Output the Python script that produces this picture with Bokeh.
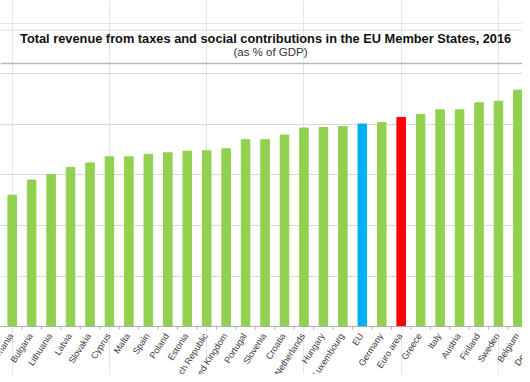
from bokeh.plotting import figure
from bokeh.models import ColumnDataSource, Span, Label, Grid, FixedTicker
from bokeh.core.properties import value
from bokeh.embed import file_html
from bokeh.resources import INLINE

countries = ["Romania", "Bulgaria", "Lithuania", "Latvia", "Slovakia", "Cyprus", "Malta",
             "Spain", "Poland", "Estonia", "Czech Republic", "United Kingdom", "Portugal",
             "Slovenia", "Croatia", "Netherlands", "Hungary", "Luxembourg", "EU", "Germany",
             "Euro area", "Greece", "Italy", "Austria", "Finland", "Sweden", "Belgium", "Denmark"]
revenue = [26.0, 29.0, 30.1, 31.5, 32.4, 33.6, 33.6, 34.1, 34.4, 34.7, 34.8, 35.2, 37.0,
           37.0, 37.9, 39.3, 39.4, 39.6, 40.1, 40.4, 41.4, 42.0, 42.9, 42.9, 44.3, 44.6,
           46.8, 47.2]
grid_values = [0, 10, 20, 30, 40, 50]

GREEN, BLUE, RED = "#92D050", "#00B0F0", "#FF0000"
colors = [BLUE if c == "EU" else RED if c == "Euro area" else GREEN for c in countries]
xs = list(range(len(countries)))

src = ColumnDataSource(dict(x=xs, top=revenue, color=colors, name=countries,
                            ly=[-1.5] * len(xs), lx=[i - 0.05 for i in xs]))

p = figure(width=522, height=374, output_backend="svg", toolbar_location=None,
           x_range=(-0.6015, 26.236), y_range=(-9.50, 64.55),
           x_axis_location=None, y_axis_location=None,
           min_border=0, min_border_left=0, min_border_right=0,
           min_border_top=0, min_border_bottom=0)
p.outline_line_color = None
p.background_fill_color = "white"
p.border_fill_color = "white"

grid = Grid(dimension=1, ticker=FixedTicker(ticks=grid_values),
            grid_line_color="#d9d9d9", grid_line_width=1)
p.add_layout(grid)

p.vbar(x="x", top="top", bottom=0, width=0.44, color="color", source=src)

p.add_layout(Span(location=0, dimension="width", line_color="#b0b0b0", line_width=1))
p.segment(x0=[i + 0.5 for i in xs], y0=[0] * len(xs), x1=[i + 0.5 for i in xs],
          y1=[-0.6] * len(xs), line_color="#b0b0b0", line_width=1)

p.text(x="lx", y="ly", text="name", source=src, angle=1.0, text_align="right",
       text_baseline="middle", text_font=value("Liberation Sans"), text_font_size="9px",
       text_color="#404040")

p.add_layout(Span(location=58.67, dimension="width", line_color="#dcdcdc", line_width=1))
p.add_layout(Span(location=52.08, dimension="width", line_color="#b8b8b8", line_width=1.5))

p.add_layout(Label(x=13.03, y=57.03, text="Total revenue from taxes and social contributions in the EU Member States, 2016",
                   text_align="center", text_baseline="middle", text_font="Liberation Sans",
                   text_font_style="bold", text_font_size="12.8px", text_color="#111111"))
p.add_layout(Label(x=13.28, y=54.26, text="(as % of GDP)", text_align="center",
                   text_baseline="middle", text_font="Liberation Sans",
                   text_font_size="11.5px", text_color="#333333"))

open("out.html", "w").write(file_html(p, INLINE))
